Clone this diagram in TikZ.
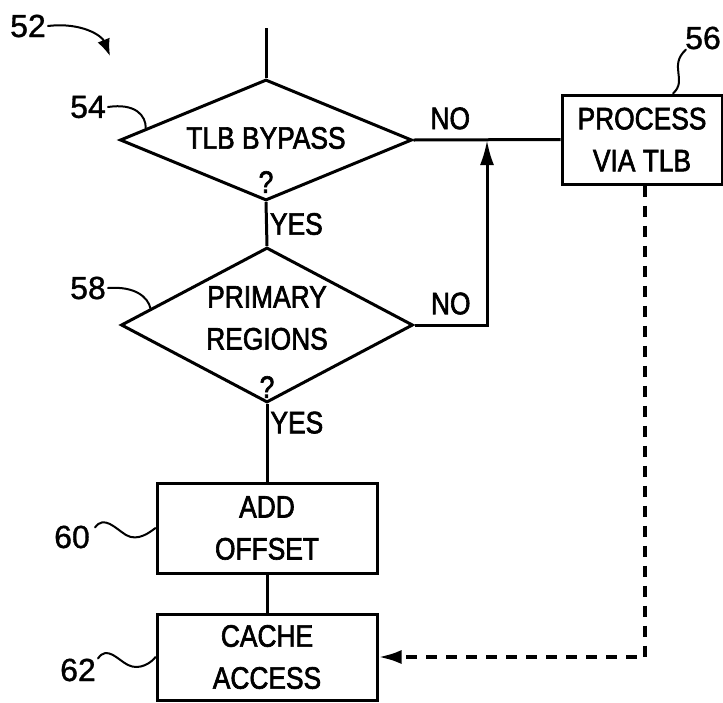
\documentclass[tikz,border=0pt]{standalone}
\usepackage{fontspec}
\setmainfont{Liberation Sans}[FakeStretch=0.85,FakeBold=2]
\newfontfamily\refnumfont{Liberation Sans}[FakeBold=1]
\usetikzlibrary{calc,shapes.geometric,arrows.meta}
\newcommand{\flowfont}{\fontsize{31}{42}\selectfont}
\tikzset{
  flow/.style={draw=black, line width=3pt},
  test/.style={flow, shape=diamond, inner sep=0pt, minimum width=292pt},
  stepbox/.style={flow, rectangle, inner sep=0pt, align=center, font=\flowfont},
  txt/.style={font=\flowfont, inner sep=0pt},
  num/.style={font=\fontsize{32}{36}\selectfont\refnumfont, inner sep=0pt},
  lead/.style={draw=black, line width=2pt, line cap=round},
  arr/.style={flow, -{Latex[length=25pt,width=14pt]}},
  dashline/.style={draw=black, line width=3.6pt, dash pattern=on 11pt off 9pt,
    -{Latex[length=23pt,width=14pt]}},
}
\begin{document}
\begin{tikzpicture}[x=1pt,y=-1pt]
  \useasboundingbox (0,0) rectangle (723,702);

  % decisions and steps
  \node[test, minimum height=121pt] (d54) at (266,140) {};
  \node[txt] (t54) at (266,138) {TLB BYPASS};
  \node[txt] (q54) at (266,182) {?};

  \node[test, minimum height=155pt] (d58) at (267,325) {};
  \node[txt, align=center] (t58) at (267,318) {PRIMARY\\REGIONS};
  \node[txt] (q58) at (267,387) {?};

  \node[stepbox, minimum width=160pt, minimum height=89pt] (b56) at (642,139.5) {PROCESS\\VIA TLB};
  \node[stepbox, minimum width=220pt, minimum height=90pt] (b60) at (267,528) {ADD\\OFFSET};
  \node[stepbox, minimum width=220pt, minimum height=86pt] (b62) at (267,657) {CACHE\\ACCESS};

  \coordinate (start) at (266,28);
  \coordinate (merge) at (487,140);

  % flow lines
  \draw[flow] (start) -- (d54.north);
  \draw[flow] (d54.south) -- node[txt, midway, anchor=west, xshift=2pt] {YES} (d58.north);
  \draw[flow] (d58.south) -- node[txt, pos=0.24, anchor=west, xshift=2pt] {YES} (b60.north);
  \draw[flow] (b60.south) -- (b62.north);
  \draw[flow] (d54.east) -- node[txt, pos=0.25, anchor=south, yshift=9pt] {NO} (b56.west);
  \draw[arr] (d58.east) -| node[txt, pos=0.25, anchor=south, yshift=9pt] {NO} (merge);
  \draw[dashline] ([xshift=3pt]b56.south) |- (b62.east);

  % reference numerals
  \node[num] (n52) at (28,26) {52};
  \node[num] (n54) at (88,107) {54};
  \node[num] (n56) at (703,38) {56};
  \node[num] (n58) at (88,288) {58};
  \node[num] (n60) at (72,537) {60};
  \node[num] (n62) at (78,670) {62};

  \draw[lead, -{Latex[length=17pt,width=13pt]}] ([xshift=2pt]n52.east)
    .. controls (82,22) and (102,36) .. (110,56);
  \draw[lead] ([xshift=2pt]n54.east) .. controls (135,103) and (146,115)
    .. ($(d54.west)!0.185!(d54.north)$);
  \draw[lead] ([xshift=2pt]n58.east) .. controls (135,286) and (148,297)
    .. ($(d58.west)!0.21!(d58.north)$);
  \draw[lead] ([xshift=1pt]n56.south west) .. controls (668,66) and (688,80)
    .. ($(b56.north west)!0.69!(b56.north east)$);
  \draw[lead] ([xshift=5pt,yshift=-2pt]n60.north east) .. controls (104,515) and (115,528)
    .. (126,535) .. controls (138,542) and (150,532) .. (b60.west);
  \draw[lead] ([xshift=2pt]n62.north east) .. controls (107,645) and (118,660)
    .. (128,665) .. controls (140,671) and (152,662) .. (b62.west);
\end{tikzpicture}
\end{document}
